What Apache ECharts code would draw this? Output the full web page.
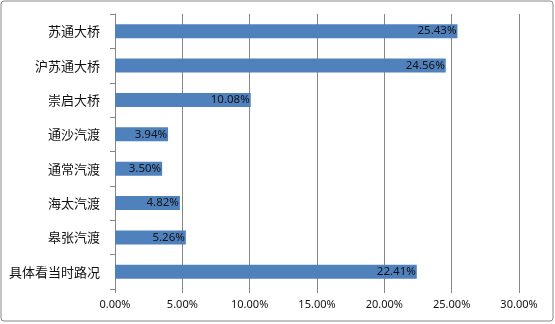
<!DOCTYPE html>
<html>
<head>
<meta charset="utf-8">
<script src="https://cdn.jsdelivr.net/npm/echarts@6/dist/echarts.min.js"></script>
<style>
  html, body { margin: 0; padding: 0; background: #fff; }
  #chart { width: 555px; height: 324px; }
</style>
</head>
<body>
<div id="chart"></div>
<script>
// Route choices (share of respondents, %)
const categories = ['苏通大桥', '沪苏通大桥', '崇启大桥', '通沙汽渡', '通常汽渡', '海太汽渡', '皋张汽渡', '具体看当时路况'];
const shares = [25.43, 24.56, 10.08, 3.94, 3.50, 4.82, 5.26, 22.41];
const axisMax = 30;
const axisStep = 5;

const chart = echarts.init(document.getElementById('chart'), null, { renderer: 'canvas' });
const lineColor = '#868686';

chart.setOption({
  animation: false,
  graphic: [{
    type: 'rect',
    shape: { x: 1, y: 1, width: 552, height: 320, r: 3 },
    style: { fill: 'none', stroke: '#888', lineWidth: 1 },
    z: 0
  }],
  grid: { left: 115, right: 36, top: 14, bottom: 35, containLabel: false },
  xAxis: {
    type: 'value',
    min: 0,
    max: axisMax,
    interval: axisStep,
    axisLine: { show: false },
    axisTick: { show: true, length: 4, lineStyle: { color: lineColor } },
    splitLine: { show: true, lineStyle: { color: lineColor, width: 1 } },
    axisLabel: {
      margin: 10,
      fontSize: 11,
      fontFamily: 'Noto Sans, sans-serif',
      color: '#111'
    ,
      formatter: v => v.toFixed(2) + '%'
    }
  },
  yAxis: {
    type: 'category',
    data: categories,
    inverse: true,
    axisLine: { show: true, lineStyle: { color: lineColor } },
    axisTick: { show: true, length: 5, lineStyle: { color: lineColor } },
    axisLabel: {
      margin: 15,
      fontSize: 13,
      fontFamily: 'Noto Sans CJK SC, sans-serif',
      color: '#111'
    }
  },
  series: [{
    type: 'bar',
    data: shares,
    barWidth: 14,
    itemStyle: { color: '#4F81BD' },
    label: {
      show: true,
      position: 'insideRight',
      distance: 1,
      fontSize: 11.5,
      fontFamily: 'Noto Sans, sans-serif',
      color: '#111',
      formatter: p => p.value.toFixed(2) + '%'
    }
  }]
});
</script>
</body>
</html>
